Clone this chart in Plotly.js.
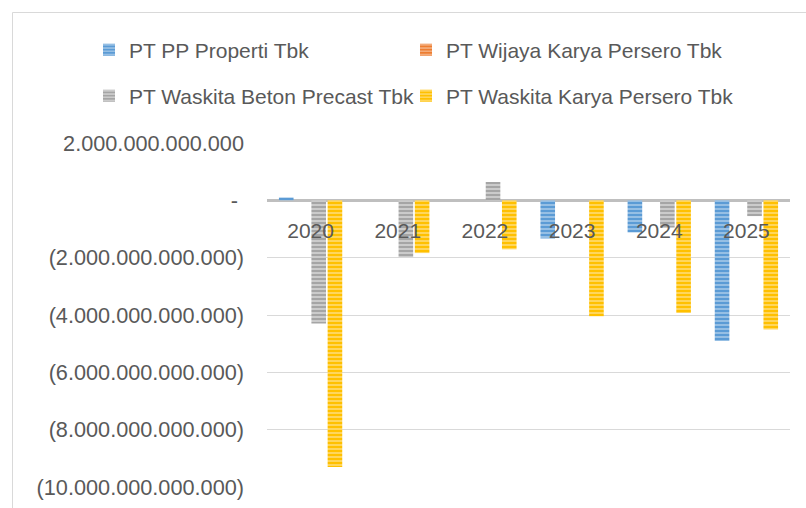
<!DOCTYPE html>
<html>
<head>
<meta charset="utf-8">
<script src="https://cdn.plot.ly/plotly-3.0.1.min.js"></script>
<style>
  html, body { margin: 0; padding: 0; background: #ffffff; }
  #chart { width: 806px; height: 508px; }
</style>
</head>
<body>
<div id="chart"></div>
<script>
// ---- Data ----
const years = ['2020', '2021', '2022', '2023', '2024', '2025'];

const ppProperti      = [0.10e12, 0, 0, -1.33e12, -1.12e12, -4.91e12];
const wijayaKarya     = [0, 0, 0, 0, 0, 0];
const waskitaBeton    = [-4.30e12, -1.98e12, 0.64e12, 0, -0.95e12, -0.55e12];
const waskitaKarya    = [-9.30e12, -1.84e12, -1.71e12, -4.04e12, -3.93e12, -4.51e12];

const seriesNames = [
  'PT PP Properti Tbk',
  'PT Wijaya Karya Persero Tbk',
  'PT Waskita Beton Precast Tbk',
  'PT Waskita Karya Persero Tbk'
];

const yTickVals = [2e12, 0, -2e12, -4e12, -6e12, -8e12, -10e12];
const yTickText = [
  '2.000.000.000.000',
  '-\u00a0',
  '(2.000.000.000.000)',
  '(4.000.000.000.000)',
  '(6.000.000.000.000)',
  '(8.000.000.000.000)',
  '(10.000.000.000.000)'
];

// ---- Styles ----
const FONT = '"Liberation Sans", Arial, sans-serif';
const TXT = '#595959';
const colors  = ['#5B9BD5', '#ED7D31', '#A5A5A5', '#FFC000'];
const stripes = ['#9DC3E6', '#F4B183', '#D0D0D0', '#FFD966'];
const legendIds = ['legend', 'legend2', 'legend3', 'legend4'];
const values  = [ppProperti, wijayaKarya, waskitaBeton, waskitaKarya];

const traces = values.map((v, i) => ({
  type: 'bar',
  name: seriesNames[i],
  x: years,
  y: v,
  legend: legendIds[i],
  marker: {
    color: colors[i],
    line: { width: 0 },
    pattern: { shape: '-', bgcolor: colors[i], fgcolor: stripes[i], size: 4, solidity: 0.45 }
  },
  hoverinfo: 'x+y+name'
}));

const W = 806, H = 508;
const L = 267, R = 16, T = 143, B = 21;
const pw = W - L - R, ph = H - T - B;

function legendAt(px, py) {
  return {
    orientation: 'h',
    xref: 'container', yref: 'container',
    xanchor: 'left', yanchor: 'middle',
    x: px / W, y: (H - py) / H,
    font: { family: FONT, size: 21, color: TXT },
    bgcolor: 'rgba(0,0,0,0)',
    borderwidth: 0,
    itemclick: false, itemdoubleclick: false
  };
}

const layout = {
  width: W, height: H,
  margin: { l: L, r: R, t: T, b: B, pad: 0 },
  paper_bgcolor: '#ffffff',
  plot_bgcolor: '#ffffff',
  font: { family: FONT, size: 21, color: TXT },
  barmode: 'group',
  bargap: 0.255,
  bargroupgap: 0.1,
  showlegend: true,
  legend:  legendAt(89, 50),
  legend2: legendAt(406, 50),
  legend3: legendAt(89, 96),
  legend4: legendAt(406, 96),
  xaxis: {
    type: 'category',
    anchor: 'free',
    position: 10 / 12,
    showgrid: false,
    zeroline: false,
    showline: false,
    ticks: '',
    ticklabelstandoff: 16,
    tickfont: { family: FONT, size: 21, color: TXT },
    fixedrange: true
  },
  yaxis: {
    range: [-10e12, 2e12],
    tickvals: yTickVals,
    ticktext: yTickText,
    showgrid: true,
    gridcolor: '#D9D9D9',
    gridwidth: 1,
    zeroline: true,
    zerolinecolor: '#BFBFBF',
    zerolinewidth: 3,
    showline: false,
    ticks: '',
    ticklabelstandoff: 22,
    tickfont: { family: FONT, size: 21.7, color: TXT },
    fixedrange: true
  },
  shapes: [{
    type: 'rect', xref: 'paper', yref: 'paper', layer: 'below',
    x0: (12.5 - L) / pw, x1: (W + 10 - L) / pw,
    y0: -(B + 10) / ph, y1: 1 + (T - 12.5) / ph,
    line: { color: '#D9D9D9', width: 1 },
    fillcolor: 'rgba(0,0,0,0)'
  }]
};

Plotly.newPlot('chart', traces, layout, { displayModeBar: false, staticPlot: true });
</script>
</body>
</html>
